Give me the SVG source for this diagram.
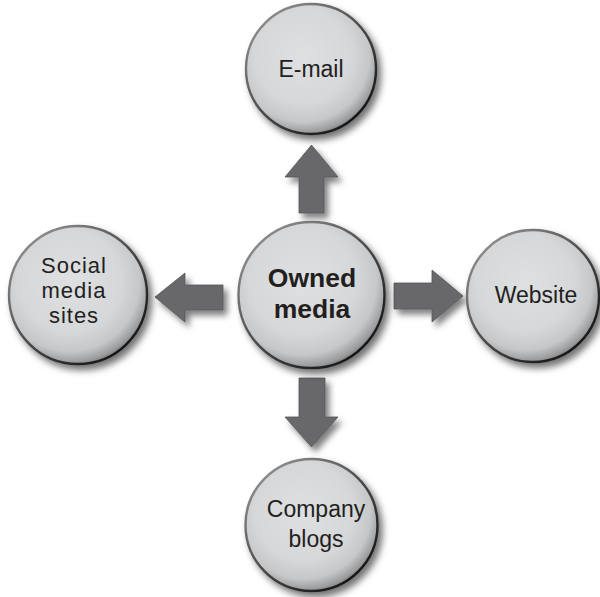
<svg xmlns="http://www.w3.org/2000/svg" width="600" height="597" viewBox="0 0 600 597">
<defs>
<radialGradient id="btn" cx="0.44" cy="0.4" r="0.62">
<stop offset="0" stop-color="#dfe0e2"/>
<stop offset="0.6" stop-color="#d6d7d9"/>
<stop offset="0.82" stop-color="#c6c7c9"/>
<stop offset="0.95" stop-color="#9a9b9d"/>
<stop offset="1" stop-color="#747577"/>
</radialGradient>
<linearGradient id="rim" x1="0.15" y1="0.1" x2="0.85" y2="0.9">
<stop offset="0" stop-color="#8c8c8c"/>
<stop offset="0.5" stop-color="#4a4a4a"/>
<stop offset="1" stop-color="#151515"/>
</linearGradient>
<filter id="sh" x="-20%" y="-20%" width="150%" height="150%">
<feDropShadow dx="4" dy="5" stdDeviation="3.5" flood-color="#000" flood-opacity="0.55"/>
</filter>
<filter id="ash" x="-30%" y="-30%" width="170%" height="170%">
<feDropShadow dx="4" dy="5" stdDeviation="3" flood-color="#000" flood-opacity="0.5"/>
</filter>
</defs>
<style>
.c{fill:url(#btn);stroke:url(#rim);stroke-width:2.4;filter:url(#sh)}
.t{font-family:"Liberation Sans",Arial,sans-serif;font-size:23px;fill:#231f20;text-anchor:middle}
.s{font-size:22px;letter-spacing:1px}
.b{font-weight:bold;font-size:26.5px}
.a{fill:#67686b;stroke:#555659;stroke-width:0.8;filter:url(#ash)}
</style>
<rect width="600" height="597" fill="#fff"/>
<g id="connectors">
<polygon class="a" points="299,213 299,177 285,177 311.5,145 338,177 324,177 324,213"/>
<polygon class="a" points="299,378 325,378 325,417 338,417 311.5,447 285,417 299,417"/>
<polygon class="a" points="223,285 185,285 185,273 155,297 185,322 185,310 223,310"/>
<polygon class="a" points="394,283 432,283 432,270 463,296 432,322 432,309 394,309"/>
</g>
<g id="email">
<circle class="c" cx="311" cy="69" r="65"/>
<text class="t" x="311" y="77">E-mail</text>
</g>
<g id="social">
<circle class="c" cx="78" cy="295" r="69"/>
<text class="t s" x="74" y="273">Social</text>
<text class="t s" x="74" y="298">media</text>
<text class="t s" x="74" y="323">sites</text>
</g>
<g id="owned">
<circle class="c" cx="311.5" cy="295" r="73"/>
<text class="t b" x="312" y="287">Owned</text>
<text class="t b" x="312" y="318">media</text>
</g>
<g id="website">
<circle class="c" cx="533" cy="296" r="66"/>
<text class="t" x="536" y="303">Website</text>
</g>
<g id="blogs">
<circle class="c" cx="311.5" cy="525" r="66"/>
<text class="t" x="316" y="517">Company</text>
<text class="t" x="316" y="547">blogs</text>
</g>
</svg>
